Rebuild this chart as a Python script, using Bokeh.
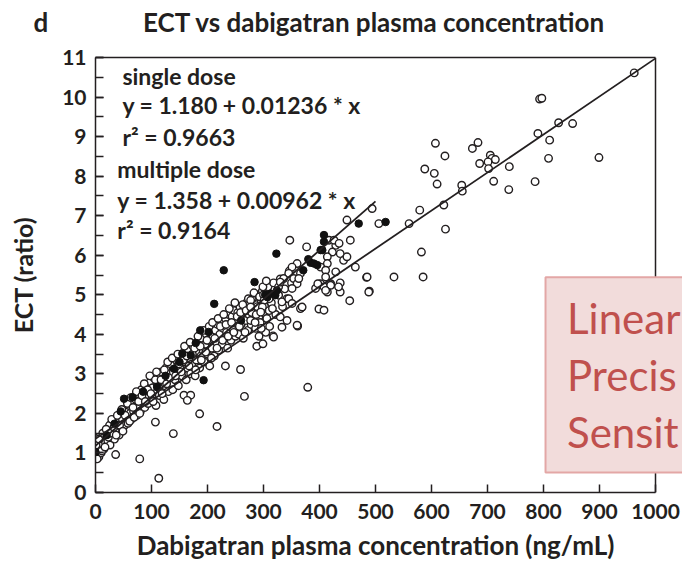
from bokeh.plotting import figure
from bokeh.models import (Range1d, SingleIntervalTicker, FixedTicker, Label, BoxAnnotation,
                          LinearAxis, Span)
from bokeh.embed import file_html
from bokeh.resources import INLINE

# ---------------- data ----------------
band1_conc = [2, 3, 5, 4, 6, 8, 9, 7, 10, 12,
              14, 15, 18, 20, 22, 24, 26, 28, 30, 25,
              32, 34, 36, 38, 40, 42, 44, 46, 48, 50,
              52, 54, 56, 58, 60, 62, 64, 66, 68, 70,
              72, 74, 76, 78, 80, 82, 84, 86, 88, 90,
              92, 94, 96, 98, 100, 102, 104, 106, 108, 110,
              112, 114, 116, 118, 120, 122, 124, 126, 128, 130,
              132, 134, 136, 138, 140, 142, 144, 146, 148, 150,
              152, 154, 156, 158, 160, 162, 164, 166, 168, 170,
              172, 174, 176, 178, 180, 182, 184, 186, 188, 190,
              192, 194, 196, 198, 200, 202, 204, 206, 208, 210,
              212, 214, 216, 218, 220, 222, 224, 226, 228, 230,
              232, 234, 236, 238, 240, 242, 244, 246, 248, 250,
              252, 254, 256, 258, 260, 262, 264, 266, 268, 270,
              272, 274, 276, 278, 280, 282, 284, 286, 288, 290,
              292, 294, 296, 298, 300, 302, 304, 306, 308, 310,
              314, 318, 322, 326, 330, 334, 338, 342, 346, 350]
band1_ect = [0.95, 1.05, 1.15, 1.25, 0.9, 1.1, 1.3, 1.4, 1.0, 1.2,
             1.35, 1.1, 1.25, 1.45, 1.3, 1.55, 1.2, 1.4, 1.6, 1.7,
             1.5, 1.35, 1.8, 1.6, 1.75, 1.45, 1.95, 1.65, 1.85, 2.0,
             1.7, 2.1, 1.9, 1.75, 2.2, 2.0, 1.85, 2.3, 2.05, 2.15,
             2.35, 1.95, 2.5, 2.2, 2.05, 2.6, 2.3, 2.45, 2.15, 2.7,
             2.4, 2.25, 2.55, 2.8, 2.35, 2.65, 2.9, 2.5, 2.2, 2.75,
             2.95, 2.45, 2.6, 3.05, 2.8, 2.35, 2.7, 3.15, 2.9, 2.55,
             3.0, 3.25, 2.75, 2.6, 3.1, 2.85, 3.35, 3.0, 2.7, 3.2,
             3.45, 2.95, 3.1, 3.55, 3.3, 2.85, 3.15, 3.6, 3.4, 3.0,
             3.25, 3.7, 3.5, 2.95, 3.35, 3.8, 3.55, 3.15, 3.45, 3.9,
             3.6, 3.3, 3.75, 4.0, 3.5, 3.85, 3.2, 4.05, 3.65, 3.95,
             3.45, 4.1, 3.8, 4.25, 3.6, 4.0, 4.35, 3.75, 4.15, 3.9,
             4.4, 4.05, 3.65, 4.5, 4.2, 3.85, 4.45, 4.1, 4.6, 3.95,
             4.3, 4.55, 4.0, 4.7, 4.25, 4.45, 3.9, 4.6, 4.35, 4.8,
             4.1, 4.5, 4.65, 4.25, 4.9, 4.4, 4.6, 4.15, 4.75, 5.0,
             4.45, 4.3, 4.85, 5.1, 4.55, 4.7, 4.95, 4.4, 5.2, 4.6,
             4.8, 5.3, 4.5, 5.0, 5.4, 4.7, 5.15, 4.9, 5.6, 5.3]

band2_conc = [1, 3, 6, 11, 13, 17, 19, 23, 27, 29,
              33, 37, 39, 43, 47, 49, 53, 57, 61, 63,
              67, 69, 73, 77, 79, 83, 87, 89, 93, 97,
              99, 103, 107, 109, 113, 117, 119, 123, 127, 129,
              133, 137, 139, 143, 147, 149, 153, 157, 159, 163,
              167, 169, 173, 177, 179, 183, 187, 189, 193, 197,
              199, 203, 207, 209, 213, 217, 219, 223, 227, 229,
              233, 237, 239, 243, 247, 249, 253, 257, 259, 263,
              267, 269, 273, 277, 279, 283, 287, 289, 293, 297,
              299, 292, 304, 311, 296, 310, 316, 305, 300, 285]
band2_ect = [1.2, 0.85, 1.35, 1.05, 1.5, 1.15, 1.6, 1.4, 1.5, 1.85,
             1.65, 1.45, 1.95, 1.7, 2.1, 1.55, 1.95, 2.25, 1.8, 2.4,
             2.15, 1.9, 2.55, 2.3, 2.0, 2.45, 2.75, 2.3, 2.6, 2.95,
             2.5, 2.3, 2.85, 3.05, 2.65, 2.85, 2.5, 3.1, 2.75, 3.3,
             2.9, 3.4, 3.05, 2.95, 3.5, 3.25, 3.05, 3.35, 3.7, 3.45,
             3.2, 3.8, 3.5, 3.65, 3.1, 3.95, 3.7, 3.35, 4.1, 3.55,
             3.85, 4.2, 3.4, 4.3, 3.9, 3.65, 4.4, 4.2, 3.85, 4.5,
             4.25, 3.95, 4.65, 4.3, 4.05, 4.8, 4.45, 4.2, 4.55, 4.75,
             4.05, 4.6, 4.9, 4.35, 4.55, 5.05, 4.5, 4.7, 4.95, 4.6,
             5.2, 3.95, 4.05, 4.2, 4.15, 4.9, 4.65, 5.35, 5.0, 4.3]

spread_conc = [113, 79, 36, 139, 107, 217, 186, 266, 379, 232,
               259, 288, 299, 317, 361, 368, 399, 408, 454, 484,
               489, 437, 437, 158, 170, 164, 347, 377, 417, 429,
               423, 414, 414, 360, 351, 366, 345, 336, 354, 360,
               351, 327, 327, 333, 345, 351, 366, 301, 298, 295,
               277, 277, 402, 408, 420, 434, 414, 330, 342, 333,
               318, 360, 494, 449, 506, 560, 455, 426, 437, 443,
               464, 485, 533, 488, 420, 411, 393, 435, 449, 402,
               411, 429, 411, 397, 363, 369, 330, 607, 624, 588,
               605, 610, 579, 622, 654, 655, 625, 582, 585, 673,
               683, 686, 705, 708, 714, 701, 702, 739, 711, 738,
               785, 790, 811, 809, 827, 852, 899, 793, 797, 962]
spread_ect = [0.36, 0.85, 0.96, 1.49, 1.78, 1.67, 1.99, 2.43, 2.66, 3.20,
              3.11, 3.70, 3.76, 3.96, 4.21, 4.68, 4.64, 4.61, 4.85, 5.44,
              5.09, 5.30, 5.07, 2.46, 2.46, 2.33, 6.38, 6.21, 6.38, 6.25,
              6.08, 5.96, 5.79, 5.79, 5.70, 5.54, 5.54, 5.41, 5.41, 5.28,
              5.16, 5.20, 4.99, 4.82, 4.90, 4.78, 4.65, 4.86, 4.69, 4.56,
              4.86, 4.69, 5.28, 5.20, 5.28, 5.20, 5.07, 4.44, 4.35, 4.18,
              3.93, 4.23, 7.18, 6.89, 6.80, 6.80, 6.38, 6.38, 6.04, 5.87,
              5.70, 5.45, 5.45, 5.07, 5.24, 5.11, 5.16, 6.30, 5.96, 5.70,
              5.62, 5.58, 5.45, 5.28, 5.41, 4.69, 5.32, 8.83, 8.51, 8.18,
              8.07, 7.80, 7.14, 7.27, 7.77, 7.62, 6.66, 6.08, 5.45, 8.70,
              8.85, 8.32, 8.53, 8.45, 8.42, 8.36, 8.19, 8.24, 7.87, 7.66,
              7.86, 9.08, 8.91, 8.45, 9.35, 9.33, 8.47, 9.95, 9.97, 10.61]

single_conc = [0, 20, 34, 51, 66, 85, 110, 125, 140, 155,
               170, 179, 187, 202, 212, 193, 229, 260, 284, 307,
               313, 321, 324, 323, 371, 384, 390, 396, 402, 405,
               408, 408, 470, 518, 45, 150, 380, 303]
single_ect = [1.02, 1.45, 1.74, 2.37, 2.41, 2.55, 2.67, 2.95, 3.13, 3.51,
              3.47, 3.78, 4.10, 4.06, 4.77, 2.84, 5.62, 4.35, 5.32, 4.94,
              5.03, 4.99, 5.11, 6.04, 5.62, 5.81, 5.79, 5.75, 6.13, 6.13,
              6.51, 6.34, 6.80, 6.84, 2.05, 3.3, 5.9, 5.0]

fit_names = ["single dose", "multiple dose"]
fit_intercept = [1.180, 1.358]
fit_slope = [0.01236, 0.00962]
fit_r2 = [0.9663, 0.9164]
fit_xmax = [500, 1000]

overlay_lines = ["Linear", "Precis", "Sensit"]

title_text = "ECT vs dabigatran plasma concentration"
x_title = "Dabigatran plasma concentration (ng/mL)"
y_title = "ECT (ratio)"
panel_letter = "d"

X_MAX, Y_MAX = 1000, 11

# ---------------- figure ----------------
INK = "#231f20"
FONT = "Lato"

# frame is widened to the canvas' right edge so that the overlaid box can reach it
p = figure(width=682, height=570, x_range=Range1d(0, 1048.2), y_range=Range1d(0, Y_MAX),
           output_backend="svg", toolbar_location=None,
           min_border_left=95, min_border_right=0, min_border_top=57, min_border_bottom=78)
p.background_fill_color = "white"
p.border_fill_color = "white"
p.xgrid.visible = False
p.ygrid.visible = False
p.outline_line_color = None

p.title.text = panel_letter + "\u00a0" * 15 + title_text
p.title.text_font = FONT
p.title.text_font_style = "bold"
p.title.text_font_size = "26px"
p.title.text_color = INK
p.title.align = "left"
p.title.offset = -62
p.title.standoff = 6

for ax, interval, nminor, bnd in ((p.xaxis[0], 100, 0, (0, X_MAX)), (p.yaxis[0], 1, 2, (0, Y_MAX))):
    ax.ticker = SingleIntervalTicker(interval=interval, num_minor_ticks=nminor)
    ax.bounds = bnd
    ax.axis_line_color = INK
    ax.axis_line_width = 1.5
    ax.major_tick_in = 8
    ax.major_tick_out = 0
    ax.minor_tick_in = 8
    ax.minor_tick_out = 0
    ax.major_tick_line_color = INK
    ax.major_tick_line_width = 1.5
    ax.minor_tick_line_color = INK
    ax.minor_tick_line_width = 1.5
    ax.major_label_text_font = FONT
    ax.major_label_text_font_style = "bold"
    ax.major_label_text_font_size = "21px"
    ax.major_label_text_color = INK
    ax.axis_label_text_font = FONT
    ax.axis_label_text_font_style = "bold"
    ax.axis_label_text_font_size = "25px"
    ax.axis_label_text_color = INK

p.yaxis.axis_label = y_title
p.xaxis.major_label_standoff = 11
p.yaxis.major_label_standoff = 9
p.yaxis.axis_label_standoff = 21

# x-axis title, centred under the 0-1000 part of the frame
xlab = LinearAxis(ticker=FixedTicker(ticks=[X_MAX / 2]), major_label_overrides={X_MAX / 2: x_title},
                  axis_line_color=None, major_tick_line_color=None, minor_tick_line_color=None,
                  major_tick_in=0, major_tick_out=0, minor_tick_in=0, minor_tick_out=0,
                  major_label_standoff=7, major_label_text_font=FONT,
                  major_label_text_font_style="bold", major_label_text_font_size="26px",
                  major_label_text_color=INK)
p.add_layout(xlab, "below")

# top and right borders of the plot box (the top axis' blank label lifts the title to the page top)
top_axis = LinearAxis(ticker=FixedTicker(ticks=[]), bounds=(0, X_MAX), axis_line_color=INK,
                      axis_line_width=1.5, major_tick_in=0, major_tick_out=0,
                      minor_tick_in=0, minor_tick_out=0, major_label_standoff=0,
                      axis_label="\u00a0", axis_label_text_font_size="1px",
                      axis_label_standoff=13)
p.add_layout(top_axis, "above")
p.add_layout(Span(location=X_MAX, dimension="height", line_color=INK, line_width=1.5))

# multiple dose (open circles)
for xs, ys in ((band1_conc, band1_ect), (band2_conc, band2_ect), (spread_conc, spread_ect)):
    p.scatter(xs, ys, marker="circle", size=7.5, fill_color="white",
              line_color=INK, line_width=1.4)
# single dose (filled circles)
p.scatter(single_conc, single_ect, marker="circle", size=7.5, fill_color="#111111",
          line_color="#111111", line_width=1)

# regression lines
for b, m, xm in zip(fit_intercept, fit_slope, fit_xmax):
    p.line([0, xm], [b, b + m * xm], line_color=INK, line_width=1.8)

# annotations (equations)
ann_x = [48, 39]
ann_y = [[10.53, 9.80, 8.99], [8.18, 7.39, 6.63]]
for name, b, m, r2, ax_, ys in zip(fit_names, fit_intercept, fit_slope, fit_r2, ann_x, ann_y):
    texts = [name, f"y = {b:.3f} + {m} * x", f"r\u00b2 = {r2}"]
    for t, yy in zip(texts, ys):
        p.add_layout(Label(x=ax_, y=yy, text=t, text_font=FONT, text_font_style="bold",
                           text_font_size="23px", text_color=INK, text_baseline="middle",
                           text_align="left"))

# overlaid slide box (runs past the right edge of the picture)
box = BoxAnnotation(left=803.6, right=1100, bottom=0.506, top=5.44,
                    fill_color="#f2dcdb", fill_alpha=1.0,
                    line_color="#e3a7a6", line_width=2, line_alpha=1.0, level="overlay")
p.add_layout(box)
for t, yy in zip(overlay_lines, [4.41, 2.96, 1.52]):
    p.add_layout(Label(x=842, y=yy, text=t, text_font=FONT, text_font_size="42px",
                       text_color="#c0504d", text_baseline="middle", text_align="left",
                       level="overlay"))

open("out.html", "w").write(file_html(p, INLINE))
